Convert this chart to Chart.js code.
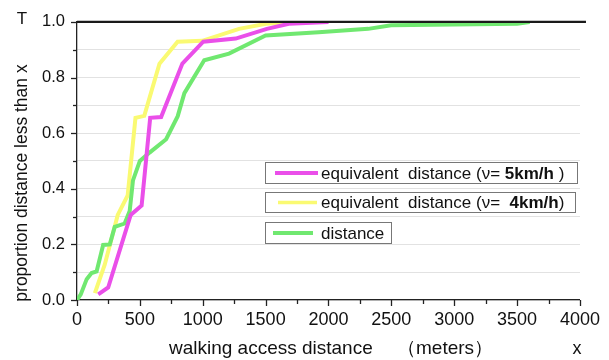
<!DOCTYPE html>
<html>
<head>
<meta charset="utf-8">
<script src="https://cdn.jsdelivr.net/npm/chart.js@4/dist/chart.umd.min.js"></script>
<style>
html,body{margin:0;padding:0;background:#fff;}
#wrap{position:relative;width:609px;height:360px;}
</style>
</head>
<body>
<div id="wrap"><canvas id="c" width="609" height="360"></canvas></div>
<script>
// ---- data (walking access distance in meters, cumulative proportion) ----
const seriesNames = ['equivalent  distance (\u03bd= 5km/h )', 'equivalent  distance (\u03bd=  4km/h)', 'distance'];
const magentaX = [169, 248, 427, 514, 582, 669, 838, 1004, 1262, 1510, 1684, 2000];
const magentaY = [0.02, 0.045, 0.306, 0.34, 0.655, 0.658, 0.85, 0.929, 0.94, 0.975, 0.993, 1.0];
const yellowX = [142, 221, 324, 403, 465, 535, 656, 800, 996, 1289, 1502, 1750];
const yellowY = [0.025, 0.128, 0.306, 0.376, 0.655, 0.662, 0.85, 0.929, 0.932, 0.975, 0.993, 1.0];
const greenX = [0, 30, 77, 116, 156, 208, 261, 300, 379, 419, 445, 500, 577, 709, 801, 854, 1012, 1209, 1500, 1921, 2316, 2498, 3500, 3600];
const greenY = [0, 0.02, 0.075, 0.097, 0.103, 0.198, 0.2, 0.263, 0.275, 0.32, 0.43, 0.5, 0.53, 0.578, 0.661, 0.744, 0.862, 0.886, 0.951, 0.963, 0.975, 0.988, 0.993, 1.0];
const xTicks = [0, 500, 1000, 1500, 2000, 2500, 3000, 3500, 4000];
const yTicks = [0.0, 0.2, 0.4, 0.6, 0.8, 1.0];

const FONT = "'Liberation Sans', Arial, sans-serif";
const colMag = '#ea4fe9', colYel = '#fafa72', colGrn = '#70e870';

function pts(xs, ys){ return xs.map((x,i)=>({x:x, y:ys[i]})); }

function line(ctx,x1,y1,x2,y2){ ctx.beginPath(); ctx.moveTo(x1,y1); ctx.lineTo(x2,y2); ctx.stroke(); }

const deco = {
  id:'deco',
  afterDatasetsDraw(chart){
    const ctx = chart.ctx, a = chart.chartArea, x = chart.scales.x, y = chart.scales.y;
    ctx.save();
    // top reference line at 1.0
    ctx.strokeStyle = '#1a1a1a'; ctx.lineWidth = 2.2;
    const yt = y.getPixelForValue(1);
    line(ctx, a.left, yt, a.right + 6, yt);
    // tick marks
    ctx.strokeStyle = '#222'; ctx.lineWidth = 1.3;
    for (let i = 0; i <= 10; i++){
      const py = Math.round(y.getPixelForValue(i/10)) + 0.5;
      const len = (i % 2 === 0) ? 6 : 4;
      line(ctx, a.left - len, py, a.left, py);
    }
    for (let m = 0; m <= 4000; m += 250){
      const px = Math.round(x.getPixelForValue(m)) + 0.5;
      const len = (m % 500 === 0) ? 6 : 4;
      line(ctx, px, a.bottom, px, a.bottom + len);
    }
    // legend boxes
    const boxes = [
      {x:265, y:162, w:312, h:21, col:colMag, lx1:275, lx2:318, lw:4, parts:[['equivalent  distance (\u03bd= ', false], ['5km/h', true], [' )', false]]},
      {x:265, y:192, w:310, h:20, col:colYel, lx1:278, lx2:317, lw:3.5, parts:[['equivalent  distance (\u03bd=  ', false], ['4km/h', true], [')', false]]},
      {x:265, y:222, w:126, h:21, col:colGrn, lx1:273, lx2:313, lw:4, parts:[['distance', false]]}
    ];
    boxes.forEach(b => {
      ctx.fillStyle = '#fff';
      ctx.fillRect(b.x, b.y, b.w, b.h);
      ctx.strokeStyle = '#777'; ctx.lineWidth = 1;
      ctx.strokeRect(b.x + 0.5, b.y + 0.5, b.w, b.h);
      ctx.strokeStyle = b.col; ctx.lineWidth = b.lw; ctx.lineCap = 'butt';
      const my = b.y + b.h/2 + 0.5;
      line(ctx, b.lx1, my, b.lx2, my);
      let tx = 321;
      ctx.fillStyle = '#111'; ctx.textBaseline = 'middle'; ctx.textAlign = 'left';
      b.parts.forEach(p => {
        ctx.font = (p[1] ? 'bold ' : '') + '17px ' + FONT;
        ctx.fillText(p[0], tx, my + 1);
        tx += ctx.measureText(p[0]).width;
      });
    });
    ctx.restore();
  },
  afterDraw(chart){
    const ctx = chart.ctx;
    ctx.save();
    ctx.fillStyle = '#111';
    ctx.textAlign = 'center'; ctx.textBaseline = 'middle';
    ctx.font = '17px ' + FONT;
    ctx.fillText('T', 22, 19);
    ctx.font = '18px ' + FONT;
    ctx.fillText('x', 577, 349);
    ctx.font = '19px ' + FONT;
    ctx.fillText('walking access distance \u3000\uff08meters\uff09', 331, 349);
    ctx.font = '17.5px ' + FONT;
    ctx.translate(22, 183);
    ctx.rotate(-Math.PI/2);
    ctx.fillText('proportion distance less than x', 0, 0);
    ctx.restore();
  }
};

new Chart(document.getElementById('c'), {
  type: 'line',
  data: {
    datasets: [
      {label: seriesNames[0], data: pts(magentaX, magentaY), borderColor: colMag, borderWidth: 4, pointRadius: 0, tension: 0, fill: false},
      {label: seriesNames[2], data: pts(greenX, greenY), borderColor: colGrn, borderWidth: 4, pointRadius: 0, tension: 0, fill: false},
      {label: seriesNames[1], data: pts(yellowX, yellowY), borderColor: colYel, borderWidth: 4, pointRadius: 0, tension: 0, fill: false}
    ]
  },
  options: {
    responsive: false,
    animation: false,
    layout: {padding: {top: 18, right: 25, left: 0, bottom: 0}},
    plugins: {legend: {display: false}, tooltip: {enabled: false}},
    scales: {
      x: {
        type: 'linear', min: 0, max: 4000,
        afterFit(s){ s.height = 60; },
        afterBuildTicks(s){ s.ticks = xTicks.map(v => ({value: v})); },
        grid: {display: false, drawTicks: false},
        border: {display: true, color: '#222', width: 1.3},
        ticks: {color: '#111', font: {family: FONT, size: 18}, padding: 9, maxRotation: 0, autoSkip: false,
                callback: v => String(v)}
      },
      y: {
        min: 0, max: 1,
        afterFit(s){ s.width = 77; },
        afterBuildTicks(s){ const t = []; for (let i = 0; i <= 10; i++) t.push({value: i/10}); s.ticks = t; },
        grid: {color: '#e2e2e2', lineWidth: 1, drawTicks: false},
        border: {display: true, color: '#222', width: 1.3},
        ticks: {color: '#111', font: {family: FONT, size: 16.5}, padding: 12, autoSkip: false,
                callback: v => { const k = Math.round(v*10); return (k % 2 === 0) ? yTicks[k/2].toFixed(1) : ''; }}
      }
    }
  },
  plugins: [deco]
});
</script>
</body>
</html>
